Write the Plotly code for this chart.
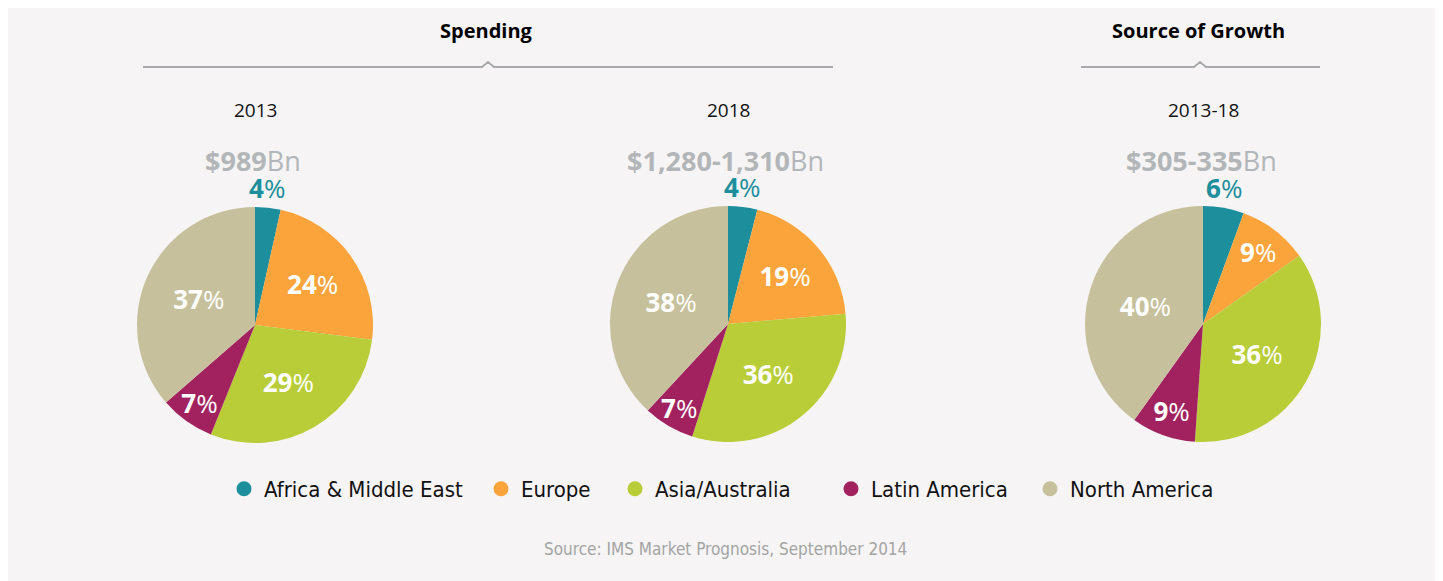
import math
import plotly.graph_objects as go

# regions, clockwise from 12 o'clock
regions = ["Africa & Middle East", "Europe", "Asia/Australia", "Latin America", "North America"]
colors = ["#1d8e9b", "#fca43c", "#b8cd37", "#a22260", "#c6c19c"]

shares_2013 = [3.5, 23.5, 29.1, 7.5, 36.4]
shares_2018 = [4.0, 19.6, 31.3, 7.0, 38.1]
shares_growth = [5.6, 9.6, 35.9, 8.8, 40.1]
labels_2013 = [4, 24, 29, 7, 37]
labels_2018 = [4, 19, 36, 7, 38]
labels_growth = [6, 9, 36, 9, 40]

periods = ["2013", "2018", "2013-18"]
totals = ["$989", "$1,280-1,310", "$305-335"]
headers = ["Spending", "Source of Growth"]
source = "Source: IMS Market Prognosis, September 2014"

# page is drawn with an 8px body margin, so the figure is a bit smaller
OFF = 8
W, H = 1443 - OFF, 581 - OFF
FONT = "Open Sans, Noto Sans, sans-serif"
NARROW = "Liberation Sans Narrow, DejaVu Sans Condensed, Arial Narrow, sans-serif"


def px(x):
    return (x - OFF) / W


def py(y):
    return 1 - (y - OFF) / H


# pie centres / radius in page px
centres = [(255, 325), (728, 324), (1203, 324)]
R = 118

fig = go.Figure()
annotations = []

for (cx, cy), shares, labs in zip(centres,
                                  [shares_2013, shares_2018, shares_growth],
                                  [labels_2013, labels_2018, labels_growth]):
    txt = [f"<b>{v}</b>%" for v in labs]
    fig.add_trace(go.Pie(
        labels=regions,
        values=shares,
        text=[""] + txt[1:],
        textinfo="text",
        textposition="inside",
        insidetextorientation="horizontal",
        textfont=dict(family=FONT, size=26, color="white"),
        marker=dict(colors=colors, line=dict(width=0)),
        sort=False,
        direction="clockwise",
        rotation=0,
        showlegend=False,
        hoverinfo="label+text",
        domain=dict(x=[px(cx - R), px(cx + R)],
                    y=[py(cy + 165), py(cy - 165)]),
    ))
    # the thin first slice gets its label just outside the rim
    mid = math.radians(360 * shares[0] / 2 / sum(shares))
    annotations.append(dict(
        x=px(cx + (R + 20) * math.sin(mid) - 3), y=py(cy - (R + 20) * math.cos(mid)),
        xref="paper", yref="paper", xanchor="center", yanchor="middle",
        text=txt[0], showarrow=False,
        font=dict(family=FONT, size=26, color=colors[0]),
    ))

# legend with round markers, one small legend per entry
legend_x = [245, 502, 636, 852, 1051]
legends = {}
for i, (name, c, lx) in enumerate(zip(regions, colors, legend_x)):
    key = "legend" if i == 0 else f"legend{i + 1}"
    fig.add_trace(go.Scatter(
        x=[None], y=[None], mode="markers", name=name, legend=key,
        marker=dict(color=c, size=15, symbol="circle"),
    ))
    legends[key] = dict(
        x=px(lx - 21), xanchor="left", y=py(489), yanchor="middle",
        orientation="h",
        font=dict(family=NARROW, size=22, color="#111111"),
        bgcolor="rgba(0,0,0,0)", itemclick=False,
    )

for (cx, cy), period, total in zip(centres, periods, totals):
    annotations.append(dict(
        x=px(cx), y=py(110), xref="paper", yref="paper",
        xanchor="center", yanchor="middle",
        text=period, showarrow=False,
        font=dict(family=FONT, size=19, color="#111111"),
    ))
    annotations.append(dict(
        x=px(cx - 2), y=py(160), xref="paper", yref="paper",
        xanchor="center", yanchor="middle",
        text=f"<b>{total}</b>Bn", showarrow=False,
        font=dict(family=FONT, size=27, color="#b3b6b8"),
    ))

header_x = [486, 1198]
for hx, h in zip(header_x, headers):
    annotations.append(dict(
        x=px(hx), y=py(31), xref="paper", yref="paper",
        xanchor="center", yanchor="middle",
        text=f"<b>{h}</b>", showarrow=False,
        font=dict(family=FONT, size=20, color="#000000"),
    ))

annotations.append(dict(
    x=px(726), y=py(549), xref="paper", yref="paper",
    xanchor="center", yanchor="middle",
    text=source, showarrow=False,
    font=dict(family=NARROW, size=17, color="#a4a4a4"),
))


# bracket lines with a small notch under each header
def bracket(x0, x1, xm, y=67):
    path = (f"M {px(x0)},{py(y)} L {px(xm - 6)},{py(y)} L {px(xm)},{py(y - 5)} "
            f"L {px(xm + 6)},{py(y)} L {px(x1)},{py(y)}")
    return dict(type="path", xref="paper", yref="paper", path=path,
                line=dict(color="#a8aaad", width=2))


shapes = [
    bracket(143, 833, 488),
    bracket(1081, 1320, 1200),
]

fig.update_layout(
    width=W, height=H,
    margin=dict(l=0, r=0, t=0, b=0),
    paper_bgcolor="#f6f4f5",
    plot_bgcolor="rgba(0,0,0,0)",
    xaxis=dict(visible=False),
    yaxis=dict(visible=False),
    uniformtext=dict(minsize=26, mode="show"),
    annotations=annotations,
    shapes=shapes,
    showlegend=True,
    **legends,
)

fig.write_html("out.html")
